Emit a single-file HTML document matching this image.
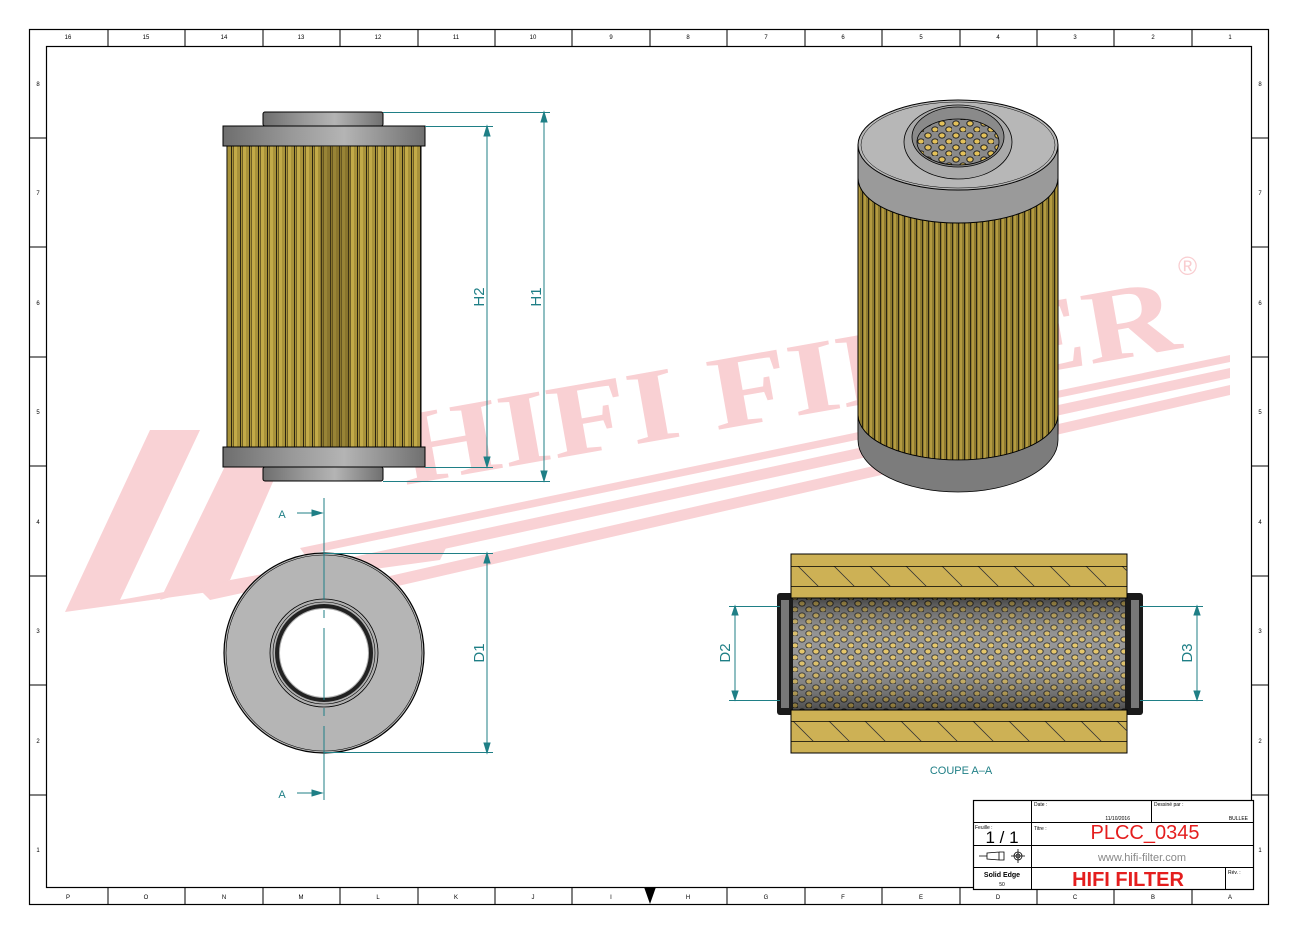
<!DOCTYPE html>
<html><head><meta charset="utf-8"><style>
html,body{margin:0;padding:0;background:#fff;}
svg{display:block;font-family:"Liberation Sans",sans-serif;}
</style></head><body>
<svg width="1300" height="936" viewBox="0 0 1300 936" xmlns="http://www.w3.org/2000/svg">
<defs>
<linearGradient id="metal" x1="0" x2="1" y1="0" y2="0">
<stop offset="0" stop-color="#6e6e6e"/><stop offset="0.35" stop-color="#9a9a9a"/><stop offset="0.6" stop-color="#b4b4b4"/><stop offset="1" stop-color="#707070"/></linearGradient>
<pattern id="pleat" width="9" height="10" patternUnits="userSpaceOnUse">
<rect width="9" height="10" fill="#a8923a"/><rect x="0" width="3" height="10" fill="#c2aa48"/><rect x="6" width="1" height="10" fill="#2a2410"/><rect x="8" width="1" height="10" fill="#6d5e25"/></pattern>
<pattern id="pleat2" width="6" height="10" patternUnits="userSpaceOnUse">
<rect width="6" height="10" fill="#8d7a30"/><rect x="0" width="2" height="10" fill="#b39a40"/><rect x="4" width="1" height="10" fill="#2a2410"/></pattern>
<pattern id="holes" width="14" height="12" patternUnits="userSpaceOnUse">
<rect width="14" height="12" fill="#8a8a8a"/>
<ellipse cx="4" cy="3.5" rx="3.2" ry="2.6" fill="#e3c15a" stroke="#222" stroke-width="1"/>
<ellipse cx="11" cy="9.5" rx="3.2" ry="2.6" fill="#e3c15a" stroke="#222" stroke-width="1"/></pattern>
<linearGradient id="tubeShade" x1="0" x2="0" y1="0" y2="1">
<stop offset="0" stop-color="#000" stop-opacity="0.5"/><stop offset="0.45" stop-color="#fff" stop-opacity="0.1"/><stop offset="1" stop-color="#000" stop-opacity="0.45"/></linearGradient>
<pattern id="hatch" width="36" height="40" patternUnits="userSpaceOnUse">
<line x1="0" y1="0" x2="30" y2="30" stroke="#333" stroke-width="0.8"/></pattern>
</defs>

<!-- watermark -->
<g fill="#f9d2d5">
<polygon points="65,612 150,430 200,430 120,600 450,540 440,560"/>
<polygon points="160,600 245,425 300,420 230,580"/>
<polygon points="200,590 1230,368 1230,378 210,600"/>
<polygon points="240,610 1230,385 1230,395 250,620"/>
<polygon points="300,548 1230,355 1230,362 305,555"/>
</g>
<text x="0" y="0" transform="translate(405,485) rotate(-10)" font-family="Liberation Serif,serif" font-weight="bold" font-size="105" fill="#f9d0d3" textLength="790" lengthAdjust="spacingAndGlyphs">HIFI FILTER</text>
<text x="1178" y="275" font-size="26" fill="#f9cdd0">®</text>

<!-- frame -->
<rect x="29.5" y="29.5" width="1239" height="875" fill="none" stroke="#000" stroke-width="1.2"/>
<rect x="46.5" y="46.5" width="1205" height="841" fill="none" stroke="#000" stroke-width="1.2"/>
<g stroke="#000" stroke-width="1">
<path d="M108 29v17M185 29v17M263 29v17M340 29v17M418 29v17M495 29v17M572 29v17M650 29v17M727 29v17M805 29v17M882 29v17M960 29v17M1037 29v17M1114 29v17M1192 29v17"/>
<path d="M108 887v17M185 887v17M263 887v17M340 887v17M418 887v17M495 887v17M572 887v17M727 887v17M805 887v17M882 887v17M960 887v17M1037 887v17M1114 887v17M1192 887v17"/>
<path d="M29 138h17M29 247h17M29 357h17M29 466h17M29 576h17M29 685h17M29 795h17"/>
<path d="M1251 138h17M1251 247h17M1251 357h17M1251 466h17M1251 576h17M1251 685h17M1251 795h17"/>
</g>
<g font-size="6" fill="#000" text-anchor="middle">
<text x="68" y="39">16</text><text x="146" y="39">15</text><text x="224" y="39">14</text><text x="301" y="39">13</text><text x="378" y="39">12</text><text x="456" y="39">11</text><text x="533" y="39">10</text><text x="611" y="39">9</text><text x="688" y="39">8</text><text x="766" y="39">7</text><text x="843" y="39">6</text><text x="921" y="39">5</text><text x="998" y="39">4</text><text x="1075" y="39">3</text><text x="1153" y="39">2</text><text x="1230" y="39">1</text>
<text x="68" y="899">P</text><text x="146" y="899">O</text><text x="224" y="899">N</text><text x="301" y="899">M</text><text x="378" y="899">L</text><text x="456" y="899">K</text><text x="533" y="899">J</text><text x="611" y="899">I</text><text x="688" y="899">H</text><text x="766" y="899">G</text><text x="843" y="899">F</text><text x="921" y="899">E</text><text x="998" y="899">D</text><text x="1075" y="899">C</text><text x="1153" y="899">B</text><text x="1230" y="899">A</text>
<text x="38" y="86">8</text><text x="38" y="195">7</text><text x="38" y="305">6</text><text x="38" y="414">5</text><text x="38" y="524">4</text><text x="38" y="633">3</text><text x="38" y="743">2</text><text x="38" y="852">1</text>
<text x="1260" y="86">8</text><text x="1260" y="195">7</text><text x="1260" y="305">6</text><text x="1260" y="414">5</text><text x="1260" y="524">4</text><text x="1260" y="633">3</text><text x="1260" y="743">2</text><text x="1260" y="852">1</text>
</g>
<polygon points="644,887 656,887 650,904" fill="#000"/>

<!-- front view -->
<rect x="263" y="112" width="120" height="14" rx="2" fill="url(#metal)" stroke="#000"/>
<rect x="223" y="126" width="202" height="20" fill="url(#metal)" stroke="#000"/>
<rect x="227" y="146" width="194" height="301" fill="url(#pleat)" stroke="#000"/>
<rect x="320" y="146" width="30" height="301" fill="#5a4c1c" opacity="0.4"/>
<rect x="223" y="447" width="202" height="20" fill="url(#metal)" stroke="#000"/>
<rect x="263" y="467" width="120" height="14" rx="2" fill="url(#metal)" stroke="#000"/>
<g stroke="#1f7f86" stroke-width="1" fill="#1f7f86">
<path d="M383 112.5H550M425 126.5H493M425 467.5H493M383 481.5H550M487 126V467M544 112V481" fill="none"/>
<polygon points="487,126 484,136 490,136"/><polygon points="487,467 484,457 490,457"/>
<polygon points="544,112 541,122 547,122"/><polygon points="544,481 541,471 547,471"/>
</g>
<text transform="translate(484,297) rotate(-90)" font-size="15" fill="#1f7f86" text-anchor="middle">H2</text>
<text transform="translate(541,297) rotate(-90)" font-size="15" fill="#1f7f86" text-anchor="middle">H1</text>

<!-- bottom view -->
<circle cx="324" cy="653" r="100" fill="#b5b5b5" stroke="#000" stroke-width="1.2"/>
<circle cx="324" cy="653" r="98" fill="none" stroke="#000" stroke-width="0.6"/>
<circle cx="324" cy="653" r="54" fill="#b0b0b0" stroke="#000" stroke-width="0.8"/>
<circle cx="324" cy="653" r="51" fill="none" stroke="#000" stroke-width="0.6"/>
<circle cx="324" cy="653" r="47" fill="none" stroke="#222" stroke-width="4"/>
<circle cx="324" cy="653" r="44" fill="#fff"/>
<g stroke="#1f7f86" fill="#1f7f86">
<path d="M324 498V600M324 610V618M324 628V700M324 708V716M324 726V800" fill="none"/>
<path d="M324 553.5H493M324 752.5H493M487 553V753M297 513H322M297 793H322" fill="none"/>
<polygon points="487,553 484,563 490,563"/><polygon points="487,753 484,743 490,743"/>
<polygon points="322,513 312,510 312,516"/><polygon points="322,793 312,790 312,796"/>
</g>
<text x="282" y="518" font-size="11" fill="#1f7f86" text-anchor="middle">A</text>
<text x="282" y="798" font-size="11" fill="#1f7f86" text-anchor="middle">A</text>
<text transform="translate(484,653) rotate(-90)" font-size="15" fill="#1f7f86" text-anchor="middle">D1</text>

<!-- 3D view -->
<path d="M858 430 A100 60 0 0 0 1058 430 V145 H858 Z" fill="#8e8e8e" stroke="#000"/>
<path d="M858 180 H1058 V415 A100 45 0 0 1 858 415 Z" fill="url(#pleat2)" stroke="#000"/>
<path d="M858 415 A100 45 0 0 0 1058 415 V440 A100 52 0 0 1 858 440 Z" fill="#7c7c7c" stroke="#000" stroke-width="0.8"/>
<path d="M858 145 V178 A100 45 0 0 0 1058 178 V145 Z" fill="#9a9a9a" stroke="#000"/>
<ellipse cx="958" cy="145" rx="100" ry="45" fill="#b7b7b7" stroke="#000"/>
<ellipse cx="958" cy="145" rx="97" ry="43" fill="none" stroke="#000" stroke-width="0.5"/>
<ellipse cx="958" cy="142" rx="54" ry="37" fill="#a9a9a9" stroke="#000" stroke-width="0.8"/>
<ellipse cx="958" cy="137" rx="46" ry="30" fill="#8a8a8a" stroke="#000" stroke-width="0.8"/>
<ellipse cx="958" cy="142" rx="41" ry="23" fill="url(#holes)" stroke="#000" stroke-width="0.8"/>

<!-- section -->
<rect x="777" y="593" width="16" height="122" rx="3" fill="#1a1a1a"/>
<rect x="1125" y="593" width="18" height="122" rx="3" fill="#1a1a1a"/>
<rect x="781" y="600" width="8" height="108" fill="#777"/>
<rect x="1131" y="600" width="8" height="108" fill="#777"/>
<rect x="793" y="598" width="332" height="112" fill="url(#holes)"/>
<rect x="793" y="598" width="332" height="112" fill="url(#tubeShade)"/>
<rect x="791" y="554" width="336" height="44" fill="#cdb155" stroke="#000"/>
<rect x="791" y="566" width="336" height="20" fill="url(#hatch)"/>
<path d="M791 566.5H1127M791 586.5H1127" stroke="#000" stroke-width="0.7"/>
<rect x="791" y="710" width="336" height="43" fill="#cdb155" stroke="#000"/>
<rect x="791" y="721" width="336" height="20" fill="url(#hatch)"/>
<path d="M791 721.5H1127M791 741.5H1127" stroke="#000" stroke-width="0.7"/>
<g stroke="#1f7f86" fill="#1f7f86">
<path d="M729 606.5H780M729 700.5H780M735 606V700M1140 606.5H1203M1140 700.5H1203M1197 606V700" fill="none"/>
<polygon points="735,606 732,615 738,615"/><polygon points="735,700 732,691 738,691"/>
<polygon points="1197,606 1194,615 1200,615"/><polygon points="1197,700 1194,691 1200,691"/>
</g>
<text transform="translate(730,653) rotate(-90)" font-size="15" fill="#1f7f86" text-anchor="middle">D2</text>
<text transform="translate(1192,653) rotate(-90)" font-size="15" fill="#1f7f86" text-anchor="middle">D3</text>
<text x="961" y="774" font-size="11" fill="#1f7f86" text-anchor="middle">COUPE A–A</text>

<!-- title block -->
<rect x="973.5" y="800.5" width="280" height="89" fill="#fff" stroke="#000" stroke-width="1.2"/>
<g stroke="#000" stroke-width="1">
<path d="M1031.5 800V889M1151.5 800V822M973 822.5H1253M973 845.5H1253M973 867.5H1253M1225.5 867V889"/>
</g>
<g font-size="5" fill="#000">
<text x="1034" y="806">Date :</text><text x="1154" y="806">Dessiné par :</text>
<text x="1130" y="820" text-anchor="end">11/10/2016</text><text x="1248" y="820" text-anchor="end">BULLEE</text>
<text x="975" y="829">Feuille :</text><text x="1034" y="830">Titre :</text><text x="1228" y="874">Rév. :</text>
</g>
<text x="1002" y="843" font-size="17" fill="#000" text-anchor="middle">1 / 1</text>
<text x="1145" y="839" font-size="20" fill="#e41e1e" text-anchor="middle">PLCC_0345</text>
<text x="1142" y="861" font-size="11" fill="#888" text-anchor="middle">www.hifi-filter.com</text>
<text x="1128" y="886" font-size="20" font-weight="bold" fill="#e41e1e" text-anchor="middle">HIFI FILTER</text>
<text x="1002" y="877" font-size="7" font-weight="bold" fill="#000" text-anchor="middle">Solid Edge</text>
<text x="1002" y="886" font-size="5" fill="#000" text-anchor="middle">50</text>
<g stroke="#000" fill="none" stroke-width="0.8">
<path d="M979 856H987M987 853L999 852V860L987 859ZM999 852H1004V860H999"/>
<circle cx="1018" cy="856" r="4"/><circle cx="1018" cy="856" r="2"/><path d="M1011 856H1025M1018 849V863"/>
</g>
</svg>
</body></html>
